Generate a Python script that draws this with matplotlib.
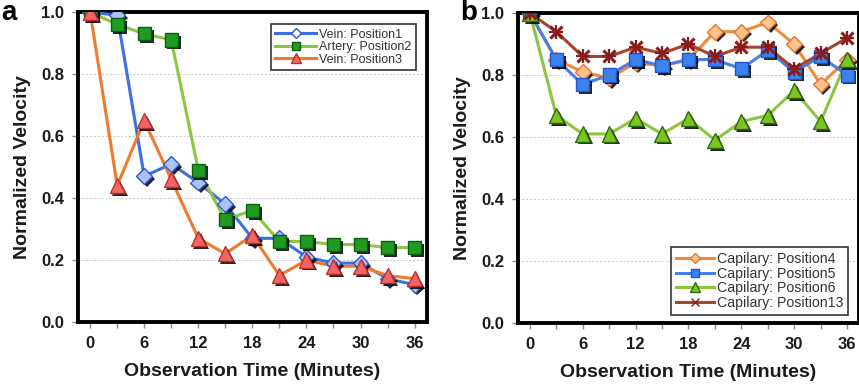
import matplotlib
matplotlib.use("Agg")
import matplotlib.pyplot as plt
import matplotlib.patheffects as pe
from matplotlib.ticker import MultipleLocator

# ---------------------------------------------------------------------------
# Data
# ---------------------------------------------------------------------------
minutes = [0, 3, 6, 9, 12, 15, 18, 21, 24, 27, 30, 33, 36]

vein_pos1 = [1.00, 0.99, 0.47, 0.51, 0.45, 0.38, 0.27, 0.27, 0.21, 0.19, 0.19, 0.14, 0.12]
artery_pos2 = [1.00, 0.96, 0.93, 0.91, 0.49, 0.33, 0.36, 0.26, 0.26, 0.25, 0.25, 0.24, 0.24]
vein_pos3 = [1.00, 0.44, 0.65, 0.46, 0.27, 0.22, 0.28, 0.15, 0.20, 0.18, 0.18, 0.15, 0.14]

cap_pos4 = [1.00, 0.85, 0.81, 0.79, 0.84, 0.83, 0.85, 0.94, 0.94, 0.97, 0.90, 0.77, 0.85]
cap_pos5 = [1.00, 0.85, 0.77, 0.80, 0.85, 0.83, 0.85, 0.85, 0.82, 0.88, 0.81, 0.86, 0.80]
cap_pos6 = [1.00, 0.67, 0.61, 0.61, 0.66, 0.61, 0.66, 0.59, 0.65, 0.67, 0.75, 0.65, 0.85]
cap_pos13 = [1.00, 0.94, 0.86, 0.86, 0.89, 0.87, 0.90, 0.86, 0.89, 0.89, 0.82, 0.87, 0.92]

x_ticks = [0, 6, 12, 18, 24, 30, 36]
y_ticks = [0.0, 0.2, 0.4, 0.6, 0.8, 1.0]

# (label, values, line colour, marker, marker face, marker edge, size)
panel_a = [
    ("Vein: Position1", vein_pos1, "#3d6fe3", "D", "#a9c4f5", "#2f55d0", 8),
    ("Artery: Position2", artery_pos2, "#8cc63f", "s", "#1f9a22", "#0c5e10", 9.5),
    ("Vein: Position3", vein_pos3, "#f07a2c", "^", "#f26565", "#c0302a", 11),
]
panel_b = [
    ("Capilary: Position4", cap_pos4, "#f28a3a", "D", "#fcc38f", "#e8742a", 8),
    ("Capilary: Position5", cap_pos5, "#4a7de6", "s", "#3a82ef", "#2255c8", 9.5),
    ("Capilary: Position6", cap_pos6, "#8cc63f", "^", "#7cc520", "#2f6a10", 11),
    ("Capilary: Position13", cap_pos13, "#a8432c", "x", "#8b1a1a", "#8b1a1a", 9),
]

plt.rcParams["font.family"] = ["Liberation Sans", "DejaVu Sans"]

fig = plt.figure(figsize=(8.59, 3.85), dpi=100)
ax_a = fig.add_axes([0.0908, 0.1636, 0.406, 0.805])
ax_b = fig.add_axes([0.603, 0.161, 0.397, 0.805])

shadow = [pe.withSimplePatchShadow(offset=(2.0, -2.0), shadow_rgbFace="black", alpha=0.85)]


def draw_panel(ax, series, letter, legend_loc, legend_box):
    for label, vals, lc, mk, mf, me, ms in series:
        ax.plot(minutes, vals, color=lc, lw=2.2, zorder=3)
        if mk == "x":
            ax.plot(minutes, vals, ls="none", marker=mk, ms=ms, mew=2.2,
                    color=me, zorder=4)
            ax.plot(minutes, vals, ls="none", marker="+", ms=ms + 1, mew=1.6,
                    color=me, zorder=4)
        else:
            pts = ax.plot(minutes, vals, ls="none", marker=mk, ms=ms, mfc=mf,
                          mec=me, mew=1.0, zorder=4)
            pts[0].set_path_effects(shadow)
        # proxy for legend
        ax.plot([], [], color=lc, lw=2.2, marker=mk, ms=ms * 0.6,
                mfc="white" if mk == "D" and letter == "a" else mf,
                mec=me, label=label)

    ax.set_xlim(-1.35, 37.35)
    ax.set_ylim(0, 1.0)
    ax.set_xticks(x_ticks)
    ax.xaxis.set_minor_locator(MultipleLocator(3))
    ax.set_yticks(y_ticks)
    ax.set_yticklabels([f"{v:.1f}" for v in y_ticks])
    ax.tick_params(axis="both", which="major", labelsize=12, length=4,
                   color="#888888", width=1, pad=6)
    ax.tick_params(axis="x", which="minor", length=4, color="#888888", width=1)
    for lab in ax.get_xticklabels() + ax.get_yticklabels():
        lab.set_fontweight("bold")
        lab.set_color("#1a1a1a")
    for sp in ax.spines.values():
        sp.set_linewidth(2.8)
        sp.set_color("black")
    ax.set_axisbelow(True)
    ax.grid(axis="y", ls=(0, (2, 2)), color="#c8c8c8", lw=0.7)
    ax.set_xlabel("Observation Time (Minutes)", fontsize=14, fontweight="bold",
                  color="#1a1a1a", labelpad=9)
    ax.set_ylabel("Normalized Velocity", fontsize=14, fontweight="bold",
                  color="#1a1a1a", labelpad=7)
    leg = ax.legend(loc=legend_loc, bbox_to_anchor=legend_box, fontsize=legend_fs[letter],
                    frameon=True, fancybox=False, edgecolor="black",
                    handlelength=legend_hl[letter], handletextpad=0.2, borderpad=0.35,
                    labelspacing=0.05, borderaxespad=0.0)
    leg.get_frame().set_linewidth(1.2)
    for t in leg.get_texts():
        t.set_color("#333333")


legend_fs = {"a": 9.0, "b": 10.2}
legend_hl = {"a": 3.3, "b": 2.7}
draw_panel(ax_a, panel_a, "a", "upper right", (0.968, 0.961))
draw_panel(ax_b, panel_b, "b", "lower right", (0.968, 0.026))

fig.text(0.002, 1.0, "a", fontsize=20, fontweight="bold", ha="left", va="top")
fig.text(0.536, 1.0, "b", fontsize=20, fontweight="bold", ha="left", va="top")

fig.savefig("out.png", dpi=100)
